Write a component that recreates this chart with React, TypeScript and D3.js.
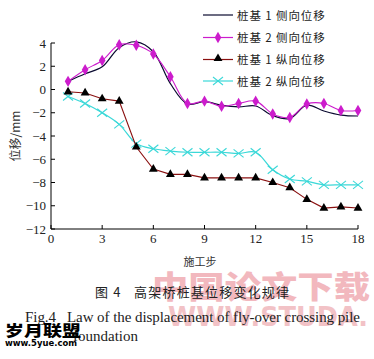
import React from "react";
import * as d3 from "d3";

const steps = [1, 2, 3, 4, 5, 6, 7, 8, 9, 10, 11, 12, 13, 14, 15, 16, 17, 18];
const pile1Lateral = [0.7, 1.35, 1.95, 3.6, 4.1, 3.25, 0.5, -1.25, -1.05, -1.35, -1.5, -1.42, -2.25, -2.5, -1.35, -1.85, -2.2, -2.28];
const pile2Lateral = [0.7, 1.7, 2.5, 3.85, 3.8, 3.05, 1.1, -1.2, -1.0, -1.45, -1.2, -1.0, -2.1, -2.4, -1.25, -1.2, -1.8, -1.8];
const pile1Longitudinal = [-0.2, -0.3, -0.8, -1.0, -4.95, -6.85, -7.3, -7.3, -7.6, -7.6, -7.6, -7.6, -8.0, -8.45, -9.45, -10.2, -10.1, -10.2];
const pile2Longitudinal = [-0.6, -1.2, -2.0, -3.0, -4.65, -5.1, -5.3, -5.4, -5.4, -5.4, -5.5, -5.4, -6.9, -7.7, -7.9, -8.2, -8.2, -8.2];
const xTicks = [0, 3, 6, 9, 12, 15, 18];
const yTicks = [4, 2, 0, -2, -4, -6, -8, -10, -12];
const legendLabels = ["桩基 1 侧向位移", "桩基 2 侧向位移", "桩基 1 纵向位移", "桩基 2 纵向位移"];

const W = 374, H = 359;
const x = d3.scaleLinear().domain([0, 18]).range([51, 358]);
const y = d3.scaleLinear().domain([-12, 4]).range([229, 43]);

const C_BLACK = "#0a0a30";
const C_MAG = "#cc1ccc";
const C_RED = "#8a1010";
const C_CYAN = "#3ad8d8";

const serif = "'Liberation Serif', 'Times New Roman', serif";
const cjk = "'Noto Sans CJK SC', sans-serif";

function lineOf(vals: number[], smooth: boolean) {
  const g = d3.line<number>()
    .x((_, i) => x(steps[i]))
    .y((v) => y(v));
  if (smooth) g.curve(d3.curveCatmullRom.alpha(0.5));
  return g(vals) || "";
}

const diamond = d3.symbol().type(d3.symbolDiamond).size(38)() || "";
const triangle = d3.symbol().type(d3.symbolTriangle).size(34)() || "";

function Cross({ cx, cy }: { cx: number; cy: number }) {
  const r = 5;
  return (
    <g stroke={C_CYAN} strokeWidth={1.1}>
      <line x1={cx - r} y1={cy - r * 0.8} x2={cx + r} y2={cy + r * 0.8} />
      <line x1={cx - r} y1={cy + r * 0.8} x2={cx + r} y2={cy - r * 0.8} />
    </g>
  );
}

export default function App() {
  const legendY = [15, 37.5, 59.5, 81];
  return (
    <svg width={W} height={H} style={{ position: "absolute", left: 0, top: 0, background: "#fff" }}>
      {/* watermarks */}
      <text x={152} y={298} textLength={218} lengthAdjust="spacingAndGlyphs" fontFamily={cjk} fontWeight={900} fontSize={31} fill="#f2b8be">中国论文下载</text>
      <text x={168} y={326} textLength={200} lengthAdjust="spacingAndGlyphs" fontFamily="'DejaVu Sans', sans-serif" fontWeight={700} fontSize={27} fill="#f2c2c6">WWW.STUDA.</text>

      {/* axes */}
      <line x1={51} y1={43} x2={51} y2={229} stroke="#000" strokeWidth={1} />
      <line x1={51} y1={229} x2={358} y2={229} stroke="#000" strokeWidth={1} />
      {yTicks.map((t) => (
        <g key={"y" + t}>
          <line x1={51} x2={55} y1={y(t)} y2={y(t)} stroke="#000" />
          <text x={46} y={y(t) + 4.5} textAnchor="end" fontFamily={serif} fontSize={13} fill="#222">
            {t < 0 ? "−" + Math.abs(t) : String(t)}
          </text>
        </g>
      ))}
      {xTicks.map((t) => (
        <g key={"x" + t}>
          <line x1={x(t)} x2={x(t)} y1={229} y2={225} stroke="#000" />
          <text x={x(t)} y={243} textAnchor="middle" fontFamily={serif} fontSize={13} fill="#222">{t}</text>
        </g>
      ))}
      <text transform="translate(20,136) rotate(-90)" textAnchor="middle" fontFamily={cjk} fontSize={12} fill="#333">位移/mm</text>
      <text x={200} y={266} textAnchor="middle" fontFamily={cjk} fontSize={11} fill="#333">施工步</text>

      {/* series */}
      <path d={lineOf(pile2Longitudinal, true)} fill="none" stroke={C_CYAN} strokeWidth={1.2} />
      {pile2Longitudinal.map((v, i) => <Cross key={"c" + i} cx={x(steps[i])} cy={y(v)} />)}
      <path d={lineOf(pile1Longitudinal, false)} fill="none" stroke={C_RED} strokeWidth={1.1} />
      {pile1Longitudinal.map((v, i) => (
        <path key={"t" + i} d={triangle} transform={`translate(${x(steps[i])},${y(v)})`} fill="#000" />
      ))}
      <path d={lineOf(pile1Lateral, true)} fill="none" stroke={C_BLACK} strokeWidth={1.2} />
      <path d={lineOf(pile2Lateral, true)} fill="none" stroke={C_MAG} strokeWidth={1.1} />
      {pile2Lateral.map((v, i) => (
        <path key={"d" + i} d={diamond} transform={`translate(${x(steps[i])},${y(v)})`} fill={C_MAG} />
      ))}

      {/* legend */}
      {legendLabels.map((lab, i) => {
        const ly = legendY[i];
        const col = [C_BLACK, C_MAG, C_RED, C_CYAN][i];
        return (
          <g key={"l" + i}>
            <line x1={203} x2={233} y1={ly} y2={ly} stroke={col} strokeWidth={1.2} />
            {i === 1 && <path d={diamond} transform={`translate(218,${ly})`} fill={C_MAG} />}
            {i === 2 && <path d={triangle} transform={`translate(218,${ly - 1})`} fill="#000" />}
            {i === 3 && <Cross cx={218} cy={ly} />}
            <text x={237} y={ly + 4.5} fontFamily={cjk} fontSize={11.5} fill="#222" letterSpacing={0.9}>{lab}</text>
          </g>
        );
      })}

      {/* captions */}
      <text x={95} y={297} fontFamily={cjk} fontSize={13} fill="#222" letterSpacing={1.2} xmlSpace="preserve">图 4   高架桥桩基位移变化规律</text>
      <text x={25} y={322} textLength={335} lengthAdjust="spacing" fontFamily={serif} fontSize={15} fill="#222" xmlSpace="preserve">Fig.4   Law of the displacement of fly-over crossing pile</text>
      <text x={73} y={341} fontFamily={serif} fontSize={15} fill="#222">foundation</text>

      {/* bottom-left watermark */}
      <text x={5} y={336} textLength={76} lengthAdjust="spacingAndGlyphs" fontFamily={cjk} fontWeight={900} fontSize={15} fill="#000">岁月联盟</text>
      <text x={5} y={346} textLength={72} lengthAdjust="spacingAndGlyphs" fontFamily="'DejaVu Sans', sans-serif" fontWeight={700} fontSize={9} fill="#000">www.5yue.com</text>
    </svg>
  );
}
